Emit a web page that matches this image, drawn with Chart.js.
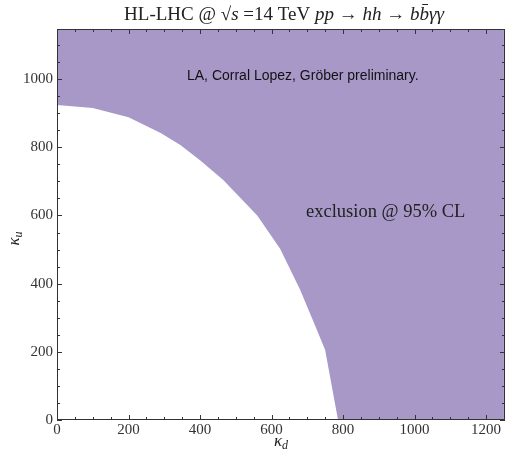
<!DOCTYPE html>
<html>
<head>
  <title>HL-LHC kappa_u kappa_d exclusion</title>
  <script src="https://cdn.jsdelivr.net/npm/chart.js"></script>
  <style>
    body { margin: 0; background: white; }
    #wrap { width: 506px; height: 453px; }
  </style>
</head>
<body>
  <div id="wrap"><canvas id="excl"></canvas></div>

  <script>
    // boundary of the 95% CL exclusion region
    const kappaD = [0, 100, 200, 290, 345, 400, 465, 560, 624, 680, 727, 750, 786, 1250];
    const kappaU = [924, 915, 888, 842, 807, 762, 704, 600, 502, 382, 264, 205, 0, 0];
    const xTicks = [0, 200, 400, 600, 800, 1000, 1200];
    const yTicks = [0, 200, 400, 600, 800, 1000];

    const purple = '#a898c8';
    const serif = '"Liberation Serif", "DejaVu Serif", serif';

    const pts = kappaD.map((x, i) => ({ x: x, y: kappaU[i] }));

    // inward tick marks on all four sides + frame
    const frameTicks = {
      id: 'frameTicks',
      afterDatasetsDraw(chart) {
        const { ctx, chartArea: a, scales } = chart;
        const xs = scales.x, ys = scales.y;
        ctx.save();
        ctx.strokeStyle = '#333';
        ctx.lineWidth = 1;
        ctx.strokeRect(a.left + 0.5, a.top + 0.5, a.right - a.left - 1, a.bottom - a.top - 1);
        for (let v = 0; v <= xs.max; v += 50) {
          const len = v % 200 === 0 ? 5 : 3;
          const px = Math.round(xs.getPixelForValue(v)) + 0.5;
          ctx.beginPath();
          ctx.moveTo(px, a.bottom); ctx.lineTo(px, a.bottom - len);
          ctx.moveTo(px, a.top); ctx.lineTo(px, a.top + len);
          ctx.stroke();
        }
        for (let v = 0; v <= ys.max; v += 50) {
          const len = v % 200 === 0 ? 5 : 3;
          const py = Math.round(ys.getPixelForValue(v)) + 0.5;
          ctx.beginPath();
          ctx.moveTo(a.left, py); ctx.lineTo(a.left + len, py);
          ctx.moveTo(a.right, py); ctx.lineTo(a.right - len, py);
          ctx.stroke();
        }
        ctx.restore();
      }
    };

    // title, axis titles and annotations (mixed italic text)
    function drawRuns(ctx, runs, x, y, align) {
      let w = 0;
      runs.forEach(r => { ctx.font = r.f; w += ctx.measureText(r.t).width; });
      let cx = align === 'center' ? x - w / 2 : x;
      runs.forEach(r => {
        ctx.font = r.f;
        ctx.fillText(r.t, cx, y + (r.dy || 0));
        cx += ctx.measureText(r.t).width;
      });
    }

    const labels = {
      id: 'labels',
      afterDraw(chart) {
        const { ctx, chartArea: a } = chart;
        ctx.save();
        ctx.fillStyle = '#222';
        ctx.textBaseline = 'alphabetic';
        ctx.textAlign = 'left';
        const up = '19px ' + serif, it = 'italic 19px ' + serif;
        const cx = (a.left + a.right) / 2;
        drawRuns(ctx, [
          { t: 'HL-LHC @ ', f: up },
          { t: '\u221A', f: up },
          { t: 's', f: it },
          { t: ' =14 TeV ', f: up },
          { t: 'pp', f: it },
          { t: ' \u2192 ', f: up },
          { t: 'hh', f: it },
          { t: ' \u2192 ', f: up },
          { t: 'b', f: it },
          { t: 'b\u0304', f: it },
          { t: '\u03B3\u03B3', f: it }
        ], cx + 3, 20, 'center');

        // x axis title
        drawRuns(ctx, [
          { t: '\u03BA', f: 'italic 17px ' + serif },
          { t: 'd', f: 'italic 12px ' + serif, dy: 3 }
        ], cx, 446, 'center');

        // y axis title
        ctx.save();
        ctx.translate(19, (a.top + a.bottom) / 2 + 14);
        ctx.rotate(-Math.PI / 2);
        drawRuns(ctx, [
          { t: '\u03BA', f: 'italic 17px ' + serif },
          { t: 'u', f: 'italic 12px ' + serif, dy: 3 }
        ], 0, 0, 'center');
        ctx.restore();

        ctx.fillStyle = '#111';
        ctx.font = '14px "Liberation Sans", Arial, sans-serif';
        ctx.fillText('LA, Corral Lopez, Gr\u00F6ber preliminary.', 187, 80);

        ctx.fillStyle = '#222';
        ctx.font = '18.5px ' + serif;
        ctx.fillText('exclusion @ 95% CL', 306, 217);
        ctx.restore();
      }
    };

    new Chart(document.getElementById('excl'), {
      type: 'scatter',
      data: {
        datasets: [{
          label: 'exclusion @ 95% CL',
          data: pts,
          showLine: true,
          fill: 'end',
          backgroundColor: purple,
          borderColor: purple,
          borderWidth: 0,
          pointRadius: 0,
          tension: 0
        }]
      },
      options: {
        responsive: true,
        maintainAspectRatio: false,
        animation: false,
        layout: { padding: { top: 29, right: 1, left: 0, bottom: 0 } },
        plugins: {
          legend: { display: false },
          tooltip: { enabled: false }
        },
        scales: {
          x: {
            type: 'linear',
            min: 0, max: 1253,
            grid: { display: false, drawTicks: false, tickLength: 0 },
            border: { display: false },
            afterFit: s => { s.height = 33; },
            afterBuildTicks: s => { s.ticks = xTicks.map(v => ({ value: v })); },
            ticks: { color: '#333', padding: 1, font: { family: serif, size: 15 }, maxRotation: 0, callback: v => String(v) }
          },
          y: {
            type: 'linear',
            min: 0, max: 1147,
            grid: { display: false, drawTicks: false, tickLength: 0 },
            border: { display: false },
            afterFit: s => { s.width = 57; },
            afterBuildTicks: s => { s.ticks = yTicks.map(v => ({ value: v })); },
            ticks: { color: '#333', padding: 4, font: { family: serif, size: 15 }, callback: v => String(v) }
          }
        }
      },
      plugins: [frameTicks, labels]
    });
  </script>
</body>
</html>
